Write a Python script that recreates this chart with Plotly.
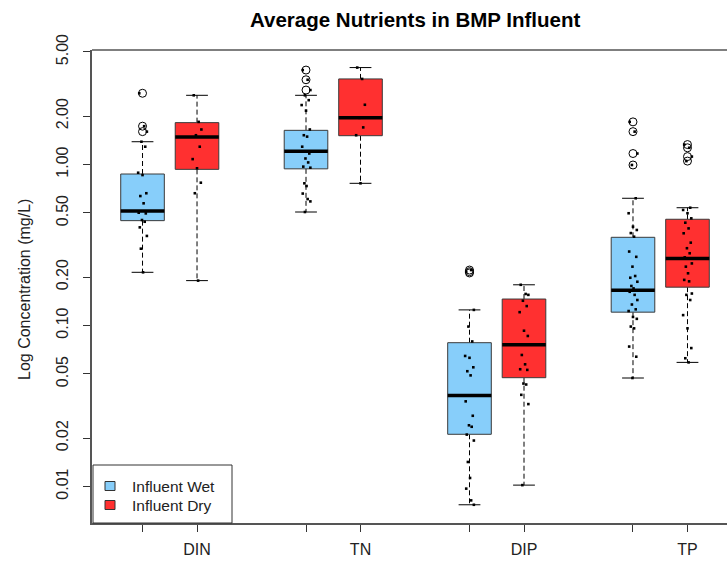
import plotly.graph_objects as go

# ---------------- data ----------------
groups = ["DIN", "TN", "DIP", "TP"]
series = ["Influent Wet", "Influent Dry"]
positions = [1, 2, 4, 5, 7, 8, 10, 11]
box_labels = ["", "DIN", "", "TN", "", "DIP", "", "TP"]
box_series = [0, 1, 0, 1, 0, 1, 0, 1]

q1 = [0.448, 0.933, 0.94, 1.51, 0.0211, 0.0474, 0.121, 0.173]
median = [0.514, 1.48, 1.21, 1.95, 0.0368, 0.076, 0.1655, 0.261]
q3 = [0.873, 1.82, 1.63, 3.40, 0.0782, 0.146, 0.353, 0.457]
whisk_lo = [0.214, 0.19, 0.507, 0.764, 0.0077, 0.0102, 0.0472, 0.059]
whisk_hi = [1.385, 2.69, 2.69, 4.0, 0.125, 0.179, 0.617, 0.539]
outliers = [
    [2.77, 1.73, 1.60],
    [],
    [3.86, 3.36, 2.90],
    [],
    [0.216, 0.221, 0.212],
    [],
    [1.84, 1.60, 1.17, 0.993],
    [1.33, 1.27, 1.12, 1.05],
]
points = [
    [2.77, 1.73, 1.60, 1.385, 1.29, 0.889, 0.86, 0.663, 0.637, 0.574, 0.502, 0.497,
     0.452, 0.441, 0.407, 0.36, 0.30, 0.214],
    [2.69, 1.84, 1.65, 1.52, 1.29, 1.08, 0.947, 0.771, 0.663, 0.19],
    [3.86, 3.36, 2.90, 2.69, 2.51, 2.34, 2.16, 1.65, 1.52, 1.49, 1.29, 1.17, 1.09,
     1.03, 0.97, 0.955, 0.764, 0.735, 0.66, 0.61, 0.59, 0.507],
    [4.0, 3.4, 2.35, 1.95, 1.7, 1.52, 0.764],
    [0.216, 0.221, 0.125, 0.0985, 0.0796, 0.0647, 0.063, 0.055, 0.052, 0.049, 0.0338,
     0.0275, 0.024, 0.0235, 0.021, 0.0193, 0.0142, 0.0113, 0.0097, 0.0082, 0.0077],
    [0.179, 0.157, 0.155, 0.1425, 0.132, 0.121, 0.0928, 0.0861, 0.0656, 0.0574, 0.0535,
     0.053, 0.0436, 0.043, 0.0371, 0.0325, 0.0102],
    [1.84, 1.60, 1.17, 0.993, 0.617, 0.498, 0.411, 0.392, 0.375, 0.356, 0.288, 0.267,
     0.232, 0.203, 0.198, 0.187, 0.176, 0.17, 0.162, 0.155, 0.144, 0.135, 0.126, 0.123,
     0.113, 0.11, 0.0985, 0.096, 0.074, 0.064, 0.0472],
    [1.33, 1.27, 1.12, 1.05, 0.539, 0.522, 0.498, 0.463, 0.435, 0.401, 0.374, 0.327,
     0.302, 0.281, 0.265, 0.243, 0.232, 0.211, 0.192, 0.188, 0.158, 0.155, 0.144, 0.116,
     0.096, 0.0724, 0.0626, 0.059],
]
y_ticks = [0.01, 0.02, 0.05, 0.1, 0.2, 0.5, 1, 2, 5]
y_ticktext = ["0.01", "0.02", "0.05", "0.10", "0.20", "0.50", "1.00", "2.00", "5.00"]

# ---------------- style ----------------
colors = ["#87CEFA", "#FF3030"]
FONT = "Liberation Sans, Arial, sans-serif"
W, H = 727, 561
ML, MR, MT, MB = 92, 0, 50, 38
half = 0.4
cap = 0.2
jit = [-0.06, 0.03, 0.08, -0.02, 0.05, -0.08, 0.0, 0.07, -0.04, 0.02, -0.07, 0.06,
       -0.01, 0.04, -0.05, 0.08, -0.03, 0.01]

fig = go.Figure()

# whiskers (dashed) and caps
for i, p in enumerate(positions):
    fig.add_trace(go.Scatter(
        x=[p, p, None, p, p], y=[q3[i], whisk_hi[i], None, q1[i], whisk_lo[i]],
        mode="lines", line=dict(color="black", width=1, dash="5px,3px"),
        hoverinfo="skip", showlegend=False))
    fig.add_trace(go.Scatter(
        x=[p - cap, p + cap, None, p - cap, p + cap],
        y=[whisk_hi[i], whisk_hi[i], None, whisk_lo[i], whisk_lo[i]],
        mode="lines", line=dict(color="black", width=1),
        hoverinfo="skip", showlegend=False))

# boxes
for i, p in enumerate(positions):
    fig.add_trace(go.Scatter(
        x=[p - half, p + half, p + half, p - half, p - half],
        y=[q1[i], q1[i], q3[i], q3[i], q1[i]],
        mode="lines", fill="toself", fillcolor=colors[box_series[i]],
        line=dict(color="#3a3a3a", width=1), hoverinfo="skip", showlegend=False))
    fig.add_trace(go.Scatter(
        x=[p - half, p + half], y=[median[i], median[i]],
        mode="lines", line=dict(color="black", width=3.5),
        hoverinfo="skip", showlegend=False))

# outliers
for i, p in enumerate(positions):
    if outliers[i]:
        fig.add_trace(go.Scatter(
            x=[p] * len(outliers[i]), y=outliers[i], mode="markers",
            marker=dict(symbol="circle-open", size=8, color="black", line=dict(width=1)),
            hoverinfo="skip", showlegend=False))

# jittered points
for i, p in enumerate(positions):
    xs = [p + jit[k % len(jit)] for k in range(len(points[i]))]
    fig.add_trace(go.Scatter(
        x=xs, y=points[i], mode="markers",
        marker=dict(symbol="square", size=2.6, color="black"),
        hoverinfo="skip", showlegend=False))

pw = W - ML - MR
ph = H - MT - MB


def px(x):
    return (x - ML) / pw


def py(y):
    return (H - MB - y) / ph


shapes = [
    dict(type="line", xref="paper", yref="paper", x0=0, x1=1, y0=1, y1=1,
         line=dict(color="#555", width=1.5)),
    # legend box
    dict(type="rect", xref="paper", yref="paper", x0=px(93), x1=px(232), y0=py(523),
         y1=py(465), line=dict(color="#333", width=1), fillcolor="white"),
]
annotations = []
for k, name in enumerate(series):
    yc = 486 + k * 19
    shapes.append(dict(type="rect", xref="paper", yref="paper",
                       x0=px(105), x1=px(115), y0=py(yc + 4.5), y1=py(yc - 4.5),
                       line=dict(color="#333", width=1), fillcolor=colors[k]))
    annotations.append(dict(text=name, xref="paper", yref="paper", x=px(130), y=py(yc),
                            xanchor="left", yanchor="middle", showarrow=False,
                            font=dict(size=15.5, color="#222", family=FONT)))

annotations.append(dict(text="<b>Average Nutrients in BMP Influent</b>", xref="paper",
                        yref="paper", x=px(414.5), y=py(20), xanchor="center",
                        yanchor="middle", showarrow=False,
                        font=dict(size=20.5, color="black", family=FONT)))
annotations.append(dict(text="Log Concentration (mg/L)", xref="paper", yref="paper",
                        x=px(24), y=py(290), xanchor="center", yanchor="middle",
                        textangle=-90, showarrow=False,
                        font=dict(size=16, color="#222", family=FONT)))

fig.update_layout(
    width=W, height=H, margin=dict(l=ML, r=MR, t=MT, b=MB, pad=0),
    paper_bgcolor="white", plot_bgcolor="white",
    font=dict(family=FONT, color="#222", size=16),
    shapes=shapes, annotations=annotations, showlegend=False,
    xaxis=dict(range=[0.073, 11.725], tickvals=positions, ticktext=box_labels,
               ticks="outside", ticklen=7, tickcolor="#333", showline=True,
               linecolor="#555", linewidth=1.5, showgrid=False, zeroline=False,
               ticklabelstandoff=4, tickfont=dict(size=16, color="#222")),
    yaxis=dict(type="log", range=[-2.2267, 0.7112], tickvals=y_ticks, ticktext=y_ticktext,
               ticks="outside", ticklen=7, tickcolor="#333", showline=True,
               linecolor="#555", linewidth=1.5, showgrid=False, zeroline=False,
               tickangle=-90, ticklabelstandoff=9, tickfont=dict(size=16, color="#222")),
)

fig.write_html("out.html")
